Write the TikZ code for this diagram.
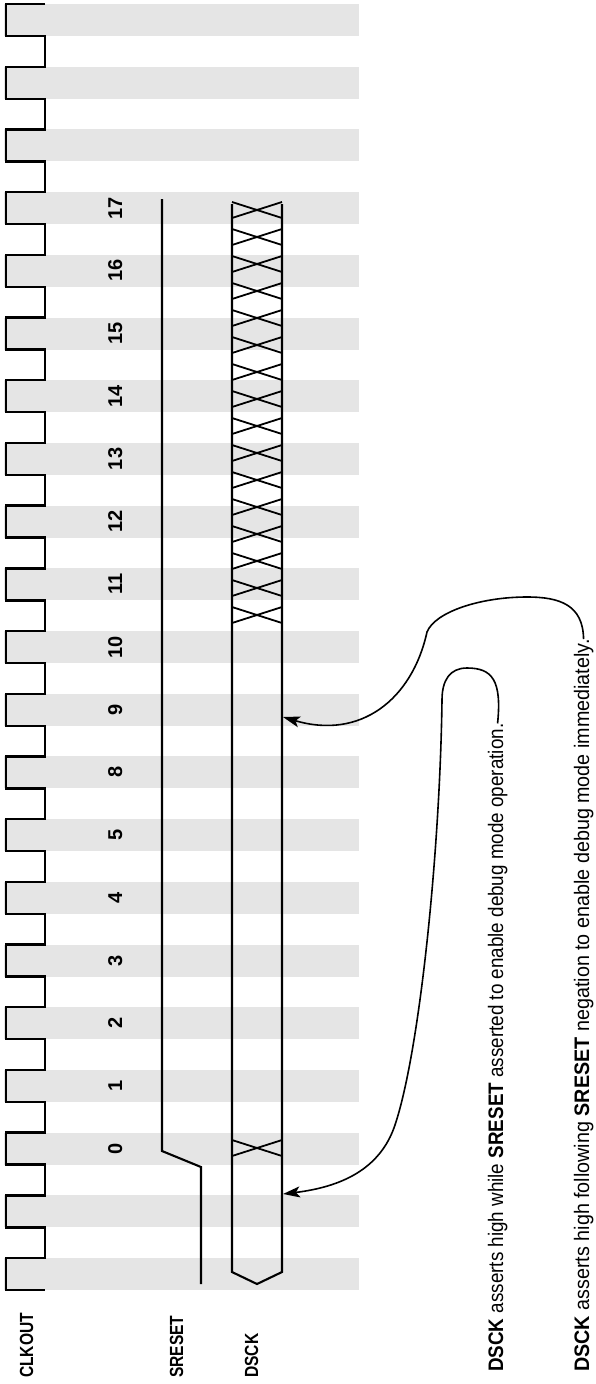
\documentclass[tikz,border=0pt]{standalone}
\usepackage{fontspec}
\setmainfont{Liberation Sans}
\usetikzlibrary{arrows.meta}
\newcommand\Narrow[1]{\scalebox{0.82}[1]{#1}}
\newcommand\Pitch{62.7}
\tikzset{
  band/.style={
    fill = black!10
  },
  clk/.style={
    line width = 2.4pt
  },
  wire/.style={
    line width = 2.1pt
  },
  xover/.style={
    line width = 1.8pt
  },
  sig/.style={
    rotate = 90,
    anchor = base west,
    inner sep = 0pt,
    font = \fontsize{19}{22}\selectfont\bfseries
  },
  num/.style={
    rotate = 90,
    anchor = base,
    inner sep = 0pt,
    font = \fontsize{20}{24}\selectfont\bfseries
  },
  note/.style={
    rotate = 90,
    anchor = base west,
    inner sep = 0pt,
    font = \fontsize{21}{24}\selectfont
  },
  callout/.style={
    line width = 1.6pt,
    -{Stealth[length=17pt,width=11pt,inset=4pt]}
  }
}
\begin{document}
\begin{tikzpicture}[x=1pt,y=-1pt]
    \useasboundingbox (0,0) rectangle (595,1384);
    % grey clock phases
    \foreach \k in {0,...,20}
        \fill[band] (4,{4+\Pitch*\k}) rectangle (359,{36+\Pitch*\k});

    % CLKOUT
    \draw[clk] (45,4) \foreach \k in {0,...,20} {
        -- (45,{4+\Pitch*\k}) -- (6,{4+\Pitch*\k}) -- (6,{36+\Pitch*\k}) -- (45,{36+\Pitch*\k})};

    % SRESET
    \draw[wire] (162,199) -- (162,1151) -- (201,1167) -- (201,1284);

    % DSCK
    \draw[wire] (232,204) -- (232,1272) -- (257,1284) -- (282,1272) -- (282,204);
    \foreach \k in {0,...,15}
        \draw[xover] (232,{202+27*\k}) -- (282,{218+27*\k}) (282,{202+27*\k}) -- (232,{218+27*\k});
    \draw[xover] (232,1140) -- (282,1156) (282,1140) -- (232,1156);
    \coordinate (d9) at (283,717);
    \coordinate (d0) at (283,1194);

    \foreach \k/\n in {3/17,4/16,5/15,6/14,7/13,8/12,9/11,10/10,11/9,12/8,13/5,14/4,15/3,16/2,17/1,18/0}
        \node[num] (n\n) at (122,{20+\Pitch*\k}) {\n};

    \node[sig] (clkout) at (33,1378) {\Narrow{CLKOUT}};
    \node[sig] (sreset) at (183,1378) {\Narrow{SRESET}};
    \node[sig] (dsck) at (258,1378) {\Narrow{DSCK}};

    \node[note] (t1) at (503,1372) {\scalebox{0.897}[1]{\textbf{DSCK} asserts high while \textbf{SRESET} asserted to enable debug mode operation.}};
    \node[note] (t2) at (589,1372) {\scalebox{0.94}[1]{\textbf{DSCK} asserts high following \textbf{SRESET} negation to enable debug mode immediately.}};

    \draw[callout] (t1.east) .. controls (502,680) and (492,668) .. (467,668)
        .. controls (450,668) and (442,680) .. (442,700)
        .. controls (440,850) and (420,1050) .. (395,1125)
        .. controls (380,1170) and (340,1187) .. (d0);
    \draw[callout] (t2.east) .. controls (583,605) and (560,597) .. (527,597)
        .. controls (480,597) and (435,612) .. (427,632)
        .. controls (412,700) and (360,740) .. (d9);
\end{tikzpicture}
\end{document}
